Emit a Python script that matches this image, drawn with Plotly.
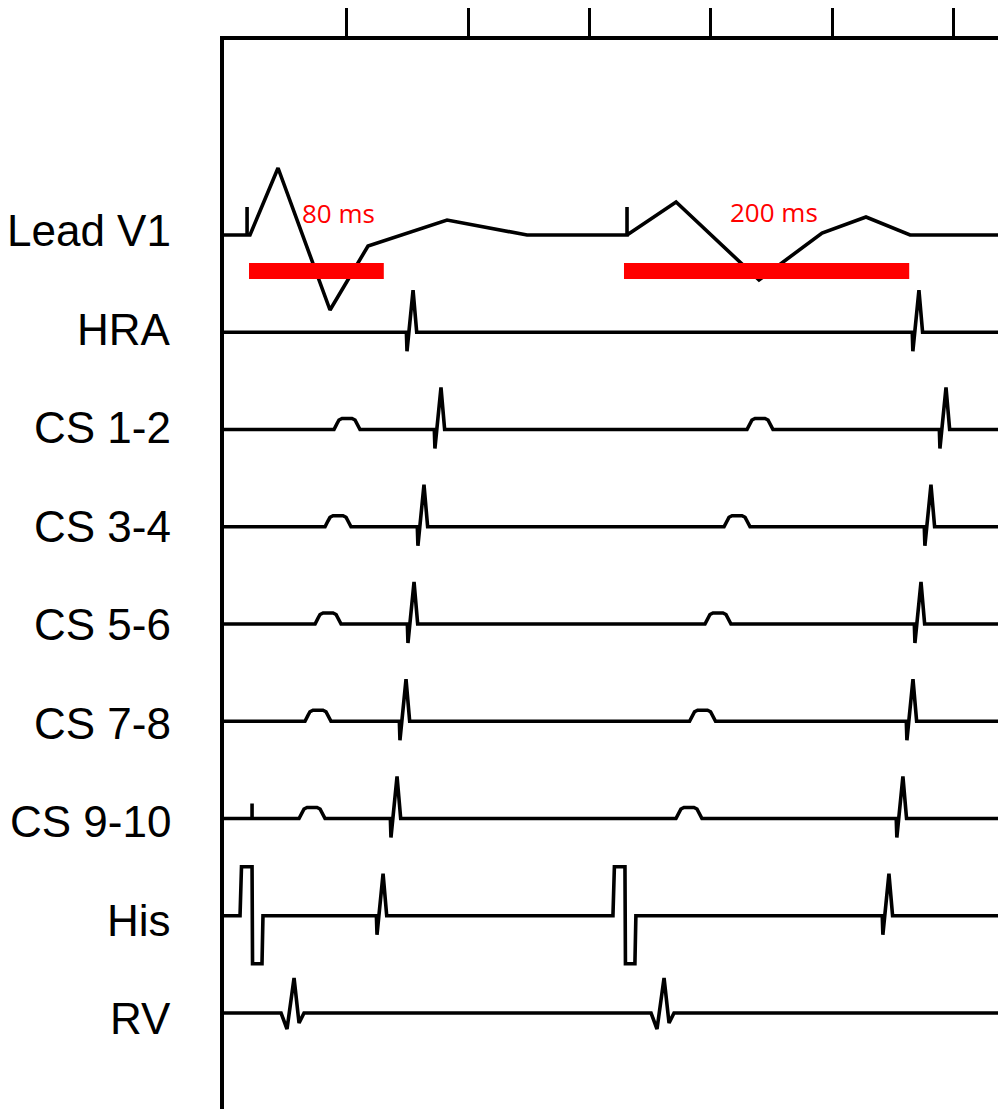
import plotly.graph_objects as go

# ---------------- data (time in ms, amplitude in arbitrary units, + = up) ----------------
LANES = ["Lead V1", "HRA", "CS 1-2", "CS 3-4", "CS 5-6", "CS 7-8", "CS 9-10", "His", "RV"]

V1_T = [-1, 18, 18, 18, 20.4, 43.5, 86.3, 117.6, 182.7, 248.6,
        330.9, 330.9, 330.9, 371.3, 439.6, 491.5, 527.7, 564.0, 643]
V1_AMP = [0, 0, 28, 0, 0, 67, -75, -11, 15, 0,
          0, 28, 0, 33, -45, 2, 18, 0, 0]

HRA_SPIKES = [154.7, 571.3]
CS12_SPIKES = [177.7, 593.6]
CS12_BUMPS = [100.3, 440.4]
CS34_SPIKES = [163.7, 581.2]
CS34_BUMPS = [92.9, 421.5]
CS56_SPIKES = [155.5, 573.0]
CS56_BUMPS = [84.7, 405.8]
CS78_SPIKES = [148.9, 566.4]
CS78_BUMPS = [76.4, 393.1]
CS910_SPIKES = [141.5, 558.1]
CS910_BUMPS = [71.5, 381.9]
CS910_PACE = [22.1]
HIS_SPIKES = [130.0, 546.6]
HIS_PACE = [12.2, 319.3]
RV_QRS = [56.7, 361.4]

# waveform templates (offset ms, amplitude)
SPIKE_DT = [-5.5, -5.0, 0.0, 3.0]
SPIKE_AMP = [0, -19, 42, 0]
BUMP_DT = [-10.7, -8.2, -6.6, -4.1, 4.1, 6.6, 8.2, 10.7]
BUMP_AMP = [0, 6, 9.5, 11, 11, 9.5, 6, 0]
TICK_DT = [0, 0, 0]
TICK_AMP = [0, 15, 0]
PACE_DT = [0, 1.2, 9.9, 10.3, 18.1, 18.9]
PACE_AMP = [0, 49, 49, -48, -48, 0]
QRS_DT = [-10.7, -5.8, 0.0, 4.1, 8.2]
QRS_AMP = [0, -16, 35, -10, 0]

INTERVAL_LABELS = ["80 ms", "200 ms"]
INTERVAL_START = [19.6, 328.4]
INTERVAL_END = [130.6, 563.3]

TICK_VALUES = [100, 200, 300, 400, 500, 600]

# ---------------- layout constants ----------------
# the page body adds an 8px margin, so the figure is sized/offset to compensate
PAGE_OFF = 8
X_MIN, X_MAX = -1, 643
W, H = 1006 - PAGE_OFF, 1109 - PAGE_OFF
M_L, M_T = 224 - PAGE_OFF, 40 - PAGE_OFF
PLOT_W = W - M_L
PLOT_H = H - M_T
LANE0 = -195.0        # y of first lane baseline (plot units = px)
LANE_STEP = 97.25
LABEL0 = -190.5
LABEL_STEP = 98.5


def lane_y(i):
    return LANE0 - LANE_STEP * i


def build(events):
    """events: list of (time, dt_template, amp_template)"""
    xs, ys = [X_MIN], [0]
    for t, dts, amps in sorted(events, key=lambda e: e[0] + e[1][0]):
        for d, a in zip(dts, amps):
            xs.append(t + d)
            ys.append(a)
    xs.append(X_MAX)
    ys.append(0)
    return xs, ys


def ev(times, dts, amps):
    return [(t, dts, amps) for t in times]


lane_events = {
    "HRA": ev(HRA_SPIKES, SPIKE_DT, SPIKE_AMP),
    "CS 1-2": ev(CS12_SPIKES, SPIKE_DT, SPIKE_AMP) + ev(CS12_BUMPS, BUMP_DT, BUMP_AMP),
    "CS 3-4": ev(CS34_SPIKES, SPIKE_DT, SPIKE_AMP) + ev(CS34_BUMPS, BUMP_DT, BUMP_AMP),
    "CS 5-6": ev(CS56_SPIKES, SPIKE_DT, SPIKE_AMP) + ev(CS56_BUMPS, BUMP_DT, BUMP_AMP),
    "CS 7-8": ev(CS78_SPIKES, SPIKE_DT, SPIKE_AMP) + ev(CS78_BUMPS, BUMP_DT, BUMP_AMP),
    "CS 9-10": ev(CS910_SPIKES, SPIKE_DT, SPIKE_AMP) + ev(CS910_BUMPS, BUMP_DT, BUMP_AMP)
               + ev(CS910_PACE, TICK_DT, TICK_AMP),
    "His": ev(HIS_SPIKES, SPIKE_DT, SPIKE_AMP) + ev(HIS_PACE, PACE_DT, PACE_AMP),
    "RV": ev(RV_QRS, QRS_DT, QRS_AMP),
}

fig = go.Figure()

LW = 3.6

# Lead V1
y0 = lane_y(0)
fig.add_trace(go.Scatter(x=V1_T, y=[y0 + a for a in V1_AMP], mode="lines",
                         line=dict(color="black", width=LW), hoverinfo="skip",
                         showlegend=False))

for i, name in enumerate(LANES[1:], start=1):
    xs, ys = build(lane_events[name])
    base = lane_y(i)
    fig.add_trace(go.Scatter(x=xs, y=[base + a for a in ys], mode="lines",
                             line=dict(color="black", width=LW), hoverinfo="skip",
                             showlegend=False))

# red interval bars
BAR_Y = -231
for s, e in zip(INTERVAL_START, INTERVAL_END):
    fig.add_trace(go.Scatter(x=[s, e], y=[BAR_Y, BAR_Y], mode="lines",
                             line=dict(color="#ff0000", width=16), hoverinfo="skip",
                             showlegend=False))

annotations = []
LABEL_POS = [(93.1, -173), (451.7, -172)]
for txt, (lx, ly) in zip(INTERVAL_LABELS, LABEL_POS):
    annotations.append(dict(x=lx, y=ly, xref="x", yref="y", text=txt, showarrow=False,
                            xanchor="center", yanchor="middle",
                            font=dict(family="Open Sans, Lato, sans-serif", size=26,
                                      color="#ff0000")))

label_x = (173 - 224) / PLOT_W
for i, name in enumerate(LANES):
    annotations.append(dict(x=label_x, y=LABEL0 - LABEL_STEP * i, xref="paper", yref="y",
                            text=name, showarrow=False, xanchor="right", yanchor="middle",
                            font=dict(family="Liberation Sans, Arial, sans-serif",
                                      size=44, color="black")))

fig.update_layout(
    width=W, height=H,
    margin=dict(l=M_L, r=0, t=M_T, b=0, pad=0, autoexpand=False),
    paper_bgcolor="white", plot_bgcolor="white",
    showlegend=False,
    annotations=annotations,
    xaxis=dict(range=[X_MIN, X_MAX], side="top", showline=True, linecolor="black",
               linewidth=4, ticks="outside", ticklen=38, tickwidth=3, tickcolor="black",
               tickvals=TICK_VALUES, showticklabels=False, showgrid=False, zeroline=False,
               fixedrange=True),
    yaxis=dict(range=[-PLOT_H, 0], showline=True, linecolor="black", linewidth=4,
               ticks="", showticklabels=False, showgrid=False, zeroline=False,
               fixedrange=True),
)

fig.write_html("out.html")
